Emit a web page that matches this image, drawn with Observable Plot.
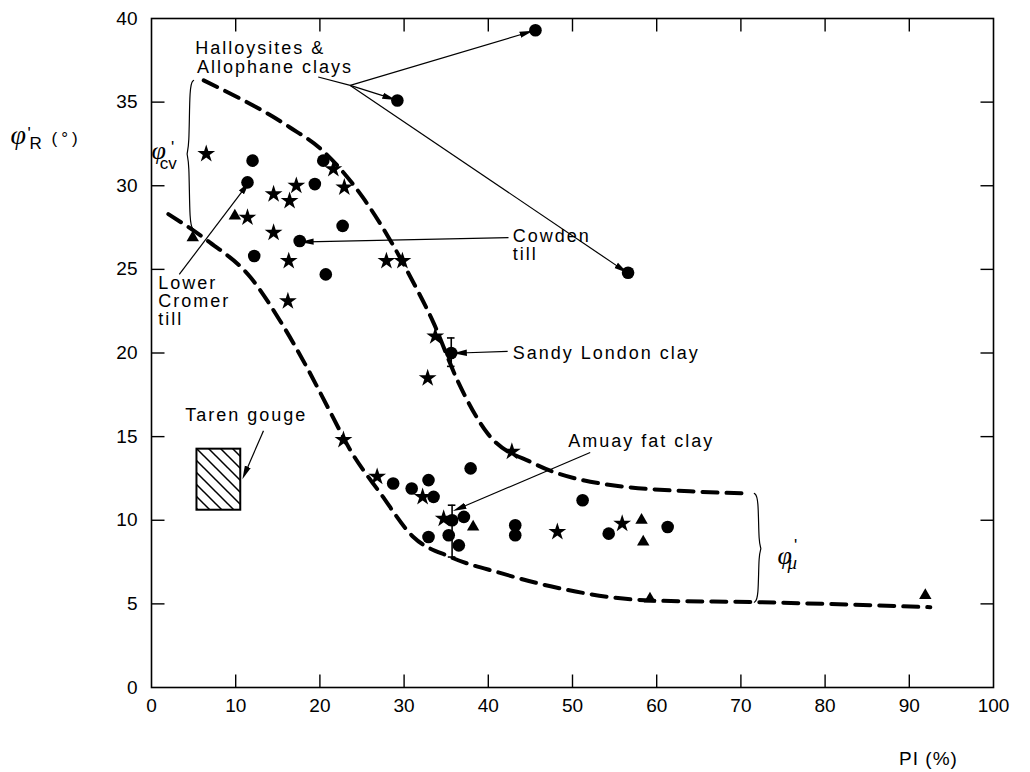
<!DOCTYPE html>
<html><head><meta charset="utf-8">
<script src="https://cdn.jsdelivr.net/npm/d3@7"></script>
<script src="https://cdn.jsdelivr.net/npm/@observablehq/plot@0.6"></script>
<style>
body{margin:0;background:#fff;}
</style></head><body><div id="chart"></div>
<script>
// Data: residual friction angle vs plasticity index
const circlePI  = [45.6,29.2,56.6,12.0,11.4,20.4,19.4,22.7,17.6,12.2,20.7,35.6,37.9,28.7,32.9,30.9,33.5,32.9,35.3,37.1,35.7,36.5,43.2,43.2,51.2,54.3,61.3];
const circlePhi = [39.3,35.1,24.8,31.5,30.2,31.5,30.1,27.6,26.7,25.8,24.7,20.0,13.1,12.2,12.4,11.9,11.4,9.0,9.1,10.2,10.0,8.5,9.7,9.1,11.2,9.2,9.6];
const starPI    = [6.5,11.4,14.5,17.2,16.4,21.6,22.9,14.5,16.3,16.2,27.9,29.8,33.7,32.8,22.8,42.8,26.8,32.2,34.7,48.2,55.9];
const starPhi   = [31.9,28.1,29.5,30.0,29.1,31.0,29.9,27.2,25.5,23.1,25.5,25.5,21.0,18.5,14.8,14.1,12.6,11.4,10.1,9.3,9.8];
const triPI     = [4.9,9.9,38.2,58.2,58.4,59.2,91.9];
const triPhi    = [26.9,28.2,9.6,10.0,8.7,5.3,5.5];

// Envelope curves (dashed)
const upperPI  = [6.2,16.4,20.1,25.1,28.4,30.8,33.5,36.3,39.9,45.4,53.3,65.2,71.1];
const upperPhi = [36.3,33.5,32.2,29.3,26.7,24.5,21.8,18.4,15.2,13.4,12.2,11.7,11.6];
const lowerPI  = [2.0,6.7,11.8,15.3,18.5,21.3,23.6,27.2,31.1,35.5,41.4,47.4,59.3,72.0,92.5];
const lowerPhi = [28.3,26.7,24.5,21.9,19.1,16.4,14.2,11.6,9.0,7.8,6.85,6.05,5.2,5.1,4.8];

// Error bars
const errPI = [35.6, 35.7];
const errLo = [19.2, 7.8];
const errHi = [20.9, 10.9];

// Taren gouge box
const tarenPI  = [5.4, 10.6];
const tarenPhi = [10.6, 14.25];

// Braces
const cvBracePI  = [5.0,4.5,4.5,4.1,4.5,4.5,5.0];
const cvBracePhi = [36.3,36.1,32.2,31.9,31.6,27.6,27.4];
const muBracePI  = [71.6,72.1,72.1,72.5,72.1,72.1,71.6];
const muBracePhi = [11.6,11.4,8.5,8.3,8.1,5.3,5.1];

// Annotation arrows
const arrowFromPI  = [23.6,23.6,23.6,42.4,3.3,42.3,52.1,13.3];
const arrowFromPhi = [36.0,36.0,36.0,26.9,24.7,20.1,14.05,15.35];
const arrowToPI    = [44.6,28.3,55.9,18.4,11.2,36.6,36.5,11.1];
const arrowToPhi   = [39.15,35.25,25.0,26.65,29.95,20.0,10.7,12.8];
const connFromPI = [19.8], connFromPhi = [36.5], connToPI = [23.6], connToPhi = [36.0];

// Annotation texts
const annotText = ["Halloysites &","Allophane clays","Cowden","till","Lower","Cromer","till","Sandy London clay","Amuay fat clay","Taren gouge"];
const annotPI   = [5.2,5.4,42.9,42.9,0.8,0.8,0.8,42.9,49.5,4.0];
const annotPhi  = [38.2,37.1,27.0,25.9,24.15,23.07,22.0,19.96,14.7,16.25];

// Ticks
const xTickVals = [0,10,20,30,40,50,60,70,80,90,100];
const yTickVals = [0,5,10,15,20,25,30,35,40];
const xInner = [10,20,30,40,50,60,70,80,90];
const yInner = [5,10,15,20,25,30,35];
const xDomain = [0, 100], yDomain = [0, 40];

const W = 1030, H = 772, mL = 151, mR = 37, mT = 18, mB = 85;
const font = "'Liberation Sans', Arial, sans-serif";
const serif = "'Liberation Serif', 'DejaVu Serif', serif";
const TL = 13; // inward tick length (px)
const tickSym = (dx, dy) => ({draw(ctx) { ctx.moveTo(0, 0); ctx.lineTo(dx, dy); }});

const pts = (xs, ys) => xs.map((x, i) => ({x, y: ys[i]}));
const circles = pts(circlePI, circlePhi);
const stars = pts(starPI, starPhi);
const tris = pts(triPI, triPhi);
const upper = pts(upperPI, upperPhi);
const lower = pts(lowerPI, lowerPhi);
const errs = errPI.map((x, i) => ({x, lo: errLo[i], hi: errHi[i]}));
const arrows = arrowFromPI.map((x1, i) => ({x1, y1: arrowFromPhi[i], x2: arrowToPI[i], y2: arrowToPhi[i]}));
const conns = connFromPI.map((x1, i) => ({x1, y1: connFromPhi[i], x2: connToPI[i], y2: connToPhi[i]}));
const annots = annotText.map((t, i) => ({t, x: annotPI[i], y: annotPhi[i]}));
const box = [{x1: tarenPI[0], x2: tarenPI[1], y1: tarenPhi[0], y2: tarenPhi[1]}];
const tickStyle = {stroke: "black", fill: "none", strokeWidth: 1.4};

const svg = Plot.plot({
  width: W, height: H,
  marginLeft: mL, marginRight: mR, marginTop: mT, marginBottom: mB,
  style: {fontFamily: font, background: "#fff", color: "#000"},
  x: {domain: xDomain},
  y: {domain: yDomain},
  marks: [
    Plot.frame({stroke: "black", strokeWidth: 1.6}),
    // inward ticks on all four sides
    Plot.dot(xInner, {x: d => d, y: () => yDomain[0], symbol: tickSym(0, -TL), ...tickStyle}),
    Plot.dot(xInner, {x: d => d, y: () => yDomain[1], symbol: tickSym(0, TL), ...tickStyle}),
    Plot.dot(yInner, {y: d => d, x: () => xDomain[0], symbol: tickSym(TL, 0), ...tickStyle}),
    Plot.dot(yInner, {y: d => d, x: () => xDomain[1], symbol: tickSym(-TL, 0), ...tickStyle}),
    Plot.axisX({ticks: xTickVals, tickSize: 0, tickPadding: 11, label: null, fontSize: 19, fontFamily: font, tickFormat: d => String(d)}),
    Plot.axisY({ticks: yTickVals, tickSize: 0, tickPadding: 14, label: null, fontSize: 19, fontFamily: font, tickFormat: d => String(d)}),
    // envelopes
    Plot.line(upper, {x: "x", y: "y", curve: "monotone-x", stroke: "black", strokeWidth: 4, strokeDasharray: "15,9"}),
    Plot.line(lower, {x: "x", y: "y", curve: "monotone-x", stroke: "black", strokeWidth: 4, strokeDasharray: "15,9"}),
    // braces
    Plot.line(pts(cvBracePI, cvBracePhi), {x: "x", y: "y", stroke: "black", strokeWidth: 1.2, curve: "basis"}),
    Plot.line(pts(muBracePI, muBracePhi), {x: "x", y: "y", stroke: "black", strokeWidth: 1.2, curve: "basis"}),
    // Taren gouge box
    Plot.rect(box, {x1: "x1", x2: "x2", y1: "y1", y2: "y2", fill: "url(#hatch)", stroke: "black", strokeWidth: 2}),
    // error bars
    Plot.ruleX(errs, {x: "x", y1: "lo", y2: "hi", stroke: "black", strokeWidth: 1.6}),
    Plot.ruleY(errs, {y: "hi", x1: d => d.x - 0.45, x2: d => d.x + 0.45, stroke: "black", strokeWidth: 1.6}),
    Plot.ruleY(errs, {y: "lo", x1: d => d.x - 0.45, x2: d => d.x + 0.45, stroke: "black", strokeWidth: 1.6}),
    // data points
    Plot.dot(circles, {x: "x", y: "y", r: 6.3, fill: "black", stroke: "none"}),
    Plot.dot(stars, {x: "x", y: "y", symbol: "star", r: 5.6, fill: "black", stroke: "none"}),
    Plot.dot(tris, {x: "x", y: "y", symbol: "triangle", r: 4.6, fill: "black", stroke: "none"}),
    // annotation arrows
    Plot.link(conns, {x1: "x1", y1: "y1", x2: "x2", y2: "y2", stroke: "black", strokeWidth: 1.2}),
    Plot.link(arrows, {x1: "x1", y1: "y1", x2: "x2", y2: "y2", stroke: "black", strokeWidth: 1.2, markerEnd: "arrow"}),
    // annotation text
    Plot.text(annots, {x: "x", y: "y", text: "t", textAnchor: "start", fontSize: 18, fontFamily: font, fill: "black"}),
    // phi_cv label
    Plot.text(["φ"], {x: [0.85], y: [32.1], text: d => d, fontSize: 26, fontStyle: "italic", fontFamily: serif, fill: "black"}),
    Plot.text(["'"], {x: [2.5], y: [32.3], text: d => d, fontSize: 17, fontFamily: font, fill: "black"}),
    Plot.text(["cv"], {x: [2.0], y: [31.35], text: d => d, fontSize: 17, fontFamily: font, fill: "black"}),
    // phi_mu label
    Plot.text(["φ"], {x: [75.2], y: [7.9], text: d => d, fontSize: 26, fontStyle: "italic", fontFamily: serif, fill: "black"}),
    Plot.text(["'"], {x: [76.5], y: [8.5], text: d => d, fontSize: 17, fontFamily: font, fill: "black"}),
    Plot.text(["μ"], {x: [76.1], y: [7.45], text: d => d, fontSize: 19, fontStyle: "italic", fontFamily: serif, fill: "black"}),
    // y axis title  φ'R(°)
    Plot.text(["φ"], {frameAnchor: "top-left", dx: -141, dy: 106, text: d => d, fontSize: 28, fontStyle: "italic", fontFamily: serif, fill: "black"}),
    Plot.text(["'"], {frameAnchor: "top-left", dx: -124, dy: 108, text: d => d, fontSize: 17, fontFamily: font, fill: "black"}),
    Plot.text(["R"], {frameAnchor: "top-left", dx: -122, dy: 118, text: d => d, fontSize: 17, fontFamily: font, fill: "black"}),
    Plot.text(["(°)"], {frameAnchor: "top-left", dx: -100, dy: 113, text: d => d, fontSize: 17, fontFamily: font, fill: "black"}),
    // x axis title
    Plot.text(["PI (%)"], {frameAnchor: "bottom-right", textAnchor: "middle", dx: -65, dy: 77, text: d => d, fontSize: 19, fontFamily: font, fill: "black"})
  ]
});

const s = d3.select(svg);
const defs = s.insert("defs", ":first-child");
const pat = defs.append("pattern").attr("id", "hatch").attr("patternUnits", "userSpaceOnUse").attr("width", 12).attr("height", 12);
pat.append("rect").attr("width", 12).attr("height", 12).attr("fill", "white");
pat.append("path").attr("d", "M-3,-3L15,15M-3,9L3,15M9,-3L15,3").attr("stroke", "black").attr("stroke-width", 1.5);
s.selectAll("marker")
  .attr("markerWidth", 12).attr("markerHeight", 12)
  .attr("fill", "black").attr("stroke", "none")
  .selectAll("path").attr("d", "M-5,-2.2L4.5,0L-5,2.2Z");
// letter spacing for the annotation labels and small titles
s.selectAll("text").filter(function() { return annotText.includes(this.textContent); }).attr("letter-spacing", 2);
s.selectAll("text").filter(function() { return this.textContent === "(°)"; }).attr("letter-spacing", 4);
s.selectAll("text").filter(function() { return this.textContent === "PI (%)"; }).attr("letter-spacing", 1);

document.getElementById("chart").appendChild(svg);
</script>
</body></html>
